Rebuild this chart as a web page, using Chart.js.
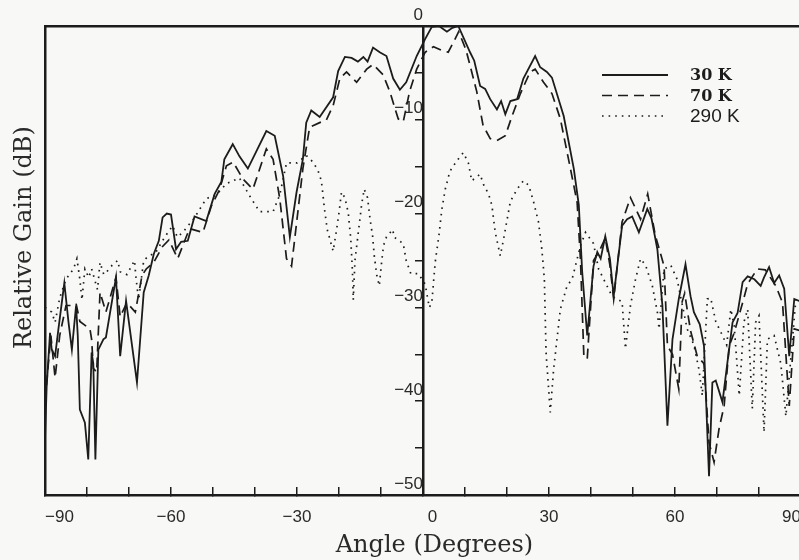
<!DOCTYPE html>
<html>
<head>
<meta charset="utf-8">
<script src="https://cdn.jsdelivr.net/npm/chart.js@4.4.1/dist/chart.umd.min.js"></script>
<style>
    html, body { margin: 0; padding: 0; background: #f8f8f6; overflow: hidden; }
    #wrap { position: relative; width: 830px; height: 560px; }
</style>
</head>
<body>
<div id="wrap"><canvas id="gainChart"></canvas></div>
<script>
// Angle (degrees) / relative gain (dB)
const angle30 = [-90, -89.6, -88.8, -88.4, -87.6, -86.8, -85.4, -84.4, -83.6, -82.6, -82.2, -81.7, -80.5, -79.7, -78.9, -78.5, -78.0, -77.3, -76.1, -75.5, -73.1, -72.1, -70.7, -68.1, -66.5, -65.3, -64.1, -62.9, -62, -61, -60, -58.8, -57.6, -56, -54.4, -51.6, -49.6, -48, -47.3, -45.3, -43.7, -41.7, -37.3, -35.3, -33.3, -31.7, -30.1, -28.6, -27.8, -26.6, -24.6, -21.4, -20.2, -18.6, -17, -15.5, -14.2, -13.2, -11.9, -10.3, -8.7, -7.1, -5.5, -4, -1.5, 0.5, 2.1, 3.8, 5.7, 7, 8.4, 11.2, 12.2, 13.6, 14.8, 16, 17.6, 18.6, 19.6, 20.8, 22.4, 23.9, 26.7, 27.9, 29.5, 30.7, 33.5, 35.9, 37.1, 37.9, 39.1, 40.6, 41.5, 42.3, 43.4, 44.5, 45.4, 47.4, 48.6, 49.8, 51.4, 53.4, 54.4, 55.8, 57, 58.2, 59.4, 60.9, 62.5, 63.7, 64.5, 65.9, 66.9, 68.1, 68.9, 69.7, 71.3, 72.5, 73.7, 74.9, 76.1, 77.3, 78.9, 80.4, 81.2, 82.4, 83.6, 84.8, 86, 87.2, 88.4, 90];
const gain30 = [-44, -38.4, -32.7, -34.5, -35.2, -32.3, -27.4, -31.6, -34.5, -29.8, -33, -40.9, -42.3, -46.2, -34.8, -36, -46.2, -34.5, -33.4, -33.2, -26.8, -35.2, -29.3, -38, -28.4, -26.6, -24.3, -22.9, -20.4, -20, -20.1, -23.8, -23, -22.9, -20.3, -20.8, -17.9, -16.6, -14.2, -12.6, -13.9, -15.2, -11.2, -11.7, -16, -22.5, -17.7, -14.2, -10.3, -9, -9.7, -7.6, -4.8, -3.3, -3.4, -3.8, -3.3, -3.8, -2.3, -2.8, -3.2, -5.6, -6.8, -6, -3.2, -1.4, -0.1, 0, -0.6, -0.2, 0, -2.8, -3.7, -6.4, -6.7, -7.8, -8.9, -8, -9.4, -8, -7.8, -5.6, -3.2, -4.4, -4.9, -5.5, -9.6, -15.2, -19.1, -26.2, -33, -25.6, -24.1, -24.8, -22.4, -24.8, -28.8, -21.3, -20.6, -20.3, -22, -19.5, -20.5, -23.8, -29.8, -42.6, -33.4, -29.1, -25.4, -28.8, -30.5, -31.8, -34.1, -48, -38, -37.8, -40.1, -35.8, -31.6, -30.6, -27.3, -26.7, -27, -27.7, -26.8, -25.7, -27.4, -26.6, -28, -35.2, -29.1, -29.4];

const angle70 = [-90, -89.2, -88.6, -87.6, -86.5, -85, -83.6, -82.6, -81.7, -79.3, -78.9, -78.5, -77.7, -76.9, -75.5, -73.1, -72.1, -70.5, -68.5, -66.9, -65.9, -64.1, -62, -60.5, -58.4, -55.6, -52.4, -50.4, -48.5, -46.8, -45.2, -42.9, -40.5, -37.3, -35.7, -34.1, -32.5, -31.3, -30.1, -28.6, -27, -24.6, -23, -21.4, -19.8, -18.2, -15.8, -13.4, -11.9, -9.5, -7.9, -5.9, -4.7, -3.2, -1.5, 0.5, 2.5, 4.5, 6, 7.5, 8.5, 10.2, 11.2, 12.8, 14.3, 16, 17.6, 19.6, 21.2, 23.2, 25.5, 26.7, 28.7, 30.7, 32.7, 35.1, 36.7, 37.5, 38.3, 39.1, 40.2, 40.6, 42, 43.4, 44.5, 45.4, 47.4, 49.4, 51.8, 53.5, 55.3, 57.4, 58.2, 59.4, 60.9, 61.7, 62.3, 63.7, 65.3, 66.9, 68.1, 69.3, 70.5, 71.7, 72.9, 74.1, 76.1, 77.3, 79.6, 81.5, 84, 85.6, 87.2, 88.4, 90];
const gain70 = [-40, -36, -33, -37.5, -33, -29.8, -29.8, -29.6, -31.5, -32.3, -33.4, -36.5, -36.9, -28.4, -30.5, -26.8, -31, -29.5, -30.5, -26.6, -25.9, -25.2, -23.5, -22.8, -24.8, -21.6, -22, -19.2, -17.5, -14.9, -14.5, -16.3, -17.4, -13.1, -14.2, -18.4, -24.8, -25.6, -21, -15.2, -10.8, -10.3, -10, -8.5, -5.6, -4.9, -6, -4.6, -4.1, -5.2, -7, -9.9, -10.2, -7, -4.6, -2.8, -2.2, -2.6, -2.8, -1.5, -0.6, -2.5, -4.2, -7, -10.6, -12, -12.2, -11.7, -9.6, -7.2, -4.9, -4.6, -6, -7.2, -9.9, -15.2, -18.8, -25, -35.2, -35.5, -28, -25, -24, -22.6, -25.5, -29.1, -20.9, -18.3, -20.6, -17.9, -22.3, -25.6, -34.1, -35, -38.7, -29.4, -28.5, -32.5, -35.2, -36, -44.4, -46.5, -42.9, -40.5, -34.1, -32.7, -29.5, -27.5, -25.9, -26, -27.7, -29.5, -40.5, -32.3, -32.5];

const angle290 = [-90, -88.4, -87.6, -86.5, -85, -83.2, -82.4, -81.7, -81.2, -80.5, -79.6, -78.9, -77.5, -76.9, -76, -75.3, -74, -72.7, -72.1, -70.5, -68.7, -68.3, -67.7, -66.5, -65.3, -63.7, -61.5, -59.6, -58.5, -57.2, -54.5, -51.6, -49.2, -46.8, -43.7, -41.3, -38.9, -35.7, -34.1, -32.5, -30, -27.8, -26.2, -25, -24.2, -23.4, -22.8, -21.4, -20.6, -20, -19.4, -18.6, -17.8, -17.2, -16.8, -16.6, -16.2, -15.4, -14.6, -14, -13.2, -12.6, -12, -11.6, -11, -10.4, -10, -9.4, -8.7, -7.2, -6.9, -4.7, -4, -2.9, -1.1, 0.5, 1.5, 2.1, 2.9, 3.8, 4.5, 5.3, 6.4, 8, 9.6, 10.8, 11.6, 13.6, 14.4, 15.6, 16.4, 17.2, 18.4, 19.2, 20.8, 22.4, 23.9, 25.2, 26.3, 27.5, 28.3, 28.9, 29.3, 30.3, 31.1, 32.7, 34.3, 35.5, 37.5, 38.7, 40.6, 41.8, 43.8, 45, 47.4, 48.2, 49.4, 50.6, 51.8, 53, 54.6, 55.8, 56.2, 57.4, 59, 60.5, 62.9, 64.5, 65.7, 66.5, 67.7, 68.5, 69.7, 71.3, 72.3, 73.3, 74.1, 75.3, 76.4, 77.3, 78.4, 79.2, 80, 81.2, 82, 83.6, 85.2, 86.4, 88.8, 90];
const gain290 = [-30, -30.5, -31.6, -29, -27, -25.9, -24.8, -27, -29.2, -25.9, -26.8, -25.9, -28.1, -25.2, -26.5, -26.2, -25.5, -25, -26.2, -26.5, -25, -27, -29.2, -25, -24.5, -24.2, -22.5, -21.3, -22.5, -22, -20.5, -18.4, -18, -16.8, -16.2, -18.1, -19.8, -19.8, -18, -14.6, -14.6, -13.8, -14.5, -15.4, -16.5, -19.7, -21.7, -24, -21.8, -19.9, -17.7, -18.3, -19.9, -22.7, -26.1, -29.2, -25, -22, -19, -17.4, -18.3, -20.6, -22.4, -24.5, -26.6, -27.7, -25.8, -23.4, -22.5, -21.7, -22.5, -23.2, -25, -26.4, -26.4, -27.5, -30, -29.5, -25.2, -22.3, -19.5, -17.4, -15.5, -14.4, -13.5, -14.6, -16.5, -15.8, -16.9, -17.9, -19.1, -22, -24.5, -22.7, -18.7, -17.4, -16.5, -17, -18.7, -20.9, -23.8, -27, -34.8, -41.2, -36.6, -30.2, -27.7, -27, -23.4, -22, -23.2, -25.9, -27.7, -28.8, -29.4, -34.4, -29.8, -27, -24.8, -25.5, -27.7, -30.5, -32.3, -25.9, -25.5, -27, -32.3, -34, -36.6, -39.4, -29.1, -29, -31.5, -33, -34, -30.2, -32, -39.4, -31.6, -30.2, -40.8, -31.6, -30.9, -43.3, -33.4, -33, -36, -41.6, -29, -29];

const seriesLabels = ["30 K", "70 K", "290 K"];

// axis settings
const angleMin = -90, angleMax = 90;
const gainMin = -50, gainMax = 0;

const ink = "#1c1c1c";
const toPoints = (xs, ys) => xs.map((x, i) => ({ x: x, y: ys[i] }));
const minus = (v) => String(v).replace("-", "\u2212");

// legend drawn in the upper right corner of the plot
const cornerLegend = {
    id: "cornerLegend",
    afterDatasetsDraw(chart, args, opts) {
        const ctx = chart.ctx;
        chart.data.datasets.forEach((ds, i) => {
            const y = opts.top + i * opts.gap;
            ctx.save();
            ctx.strokeStyle = ds.borderColor;
            ctx.lineWidth = ds.borderWidth;
            ctx.setLineDash(ds.borderDash || []);
            ctx.beginPath();
            ctx.moveTo(opts.x1, y);
            ctx.lineTo(opts.x2, y);
            ctx.stroke();
            ctx.setLineDash([]);
            ctx.fillStyle = ink;
            ctx.font = opts.fonts[i];
            ctx.textBaseline = "middle";
            ctx.fillText(ds.label, opts.textX, y + 1);
            ctx.restore();
        });
    },
};

new Chart(document.getElementById("gainChart"), {
    type: "line",
    data: {
        datasets: [
            {
                label: seriesLabels[0],
                data: toPoints(angle30, gain30),
                borderColor: ink,
                borderWidth: 1.8,
            },
            {
                label: seriesLabels[1],
                data: toPoints(angle70, gain70),
                borderColor: ink,
                borderWidth: 1.7,
                borderDash: [10, 6],
            },
            {
                label: seriesLabels[2],
                data: toPoints(angle290, gain290),
                borderColor: ink,
                borderWidth: 1.7,
                borderDash: [1.6, 5],
            },
        ],
    },
    options: {
        responsive: true,
        maintainAspectRatio: false,
        animation: false,
        layout: { padding: { left: 0, right: 29, top: 0, bottom: 0 } },
        elements: {
            point: { radius: 0 },
            line: { tension: 0 },
        },
        plugins: {
            legend: { display: false },
            tooltip: { enabled: false },
            cornerLegend: {
                x1: 602,
                x2: 668,
                textX: 690,
                top: 75,
                gap: 20.5,
                fonts: ["bold 16px 'DejaVu Serif'", "bold 16px 'DejaVu Serif'", "19px 'Liberation Sans'"],
            },
        },
        scales: {
            x: {
                type: "linear",
                position: "bottom",
                min: angleMin,
                max: angleMax,
                afterFit: (s) => { s.height = 65; },
                border: { display: true, color: ink, width: 2.5 },
                grid: { drawOnChartArea: false, color: ink, lineWidth: 1.5, tickLength: -8 },
                ticks: {
                    stepSize: 10,
                    padding: 20,
                    align: "inner",
                    color: "#2a2a2a",
                    font: { family: "'Liberation Sans'", size: 17 },
                    // the 0 label sits just right of the centre axis
                    callback: (v) => (v === 0 ? "\u2007\u20070" : v % 30 === 0 ? minus(v) : ""),
                    autoSkip: false,
                    maxRotation: 0,
                },
                title: {
                    display: true,
                    text: "   Angle (Degrees)",
                    color: "#2a2a2a",
                    font: { family: "'DejaVu Serif'", size: 24 },
                    padding: { top: 0, bottom: 0 },
                },
            },
            xTop: {
                type: "linear",
                position: "top",
                min: angleMin,
                max: angleMax,
                afterFit: (s) => { s.height = 26; },
                border: { display: true, color: ink, width: 2.5 },
                grid: { display: false },
                ticks: { display: false },
            },
            yLeft: {
                type: "linear",
                position: "left",
                min: gainMin,
                max: gainMax,
                afterFit: (s) => { s.width = 45; },
                border: { display: true, color: ink, width: 2.5 },
                grid: { display: false },
                ticks: { display: false },
                title: {
                    display: true,
                    text: "      Relative Gain (dB)",
                    color: "#2a2a2a",
                    font: { family: "'DejaVu Serif'", size: 24 },
                    padding: { top: 10, bottom: 0 },
                },
            },
            y: {
                type: "linear",
                position: { x: 0 },
                min: gainMin,
                max: gainMax,
                border: { display: true, color: ink, width: 2.5 },
                grid: { drawOnChartArea: false, color: ink, lineWidth: 1.5, tickLength: 7 },
                ticks: {
                    stepSize: 5,
                    padding: 0,
                    labelOffset: -11,
                    color: "#2a2a2a",
                    font: { family: "'Liberation Sans'", size: 17 },
                    callback: (v) => (v % 10 === 0 ? minus(v) : ""),
                },
            },
        },
    },
    plugins: [cornerLegend],
});
</script>
</body>
</html>
